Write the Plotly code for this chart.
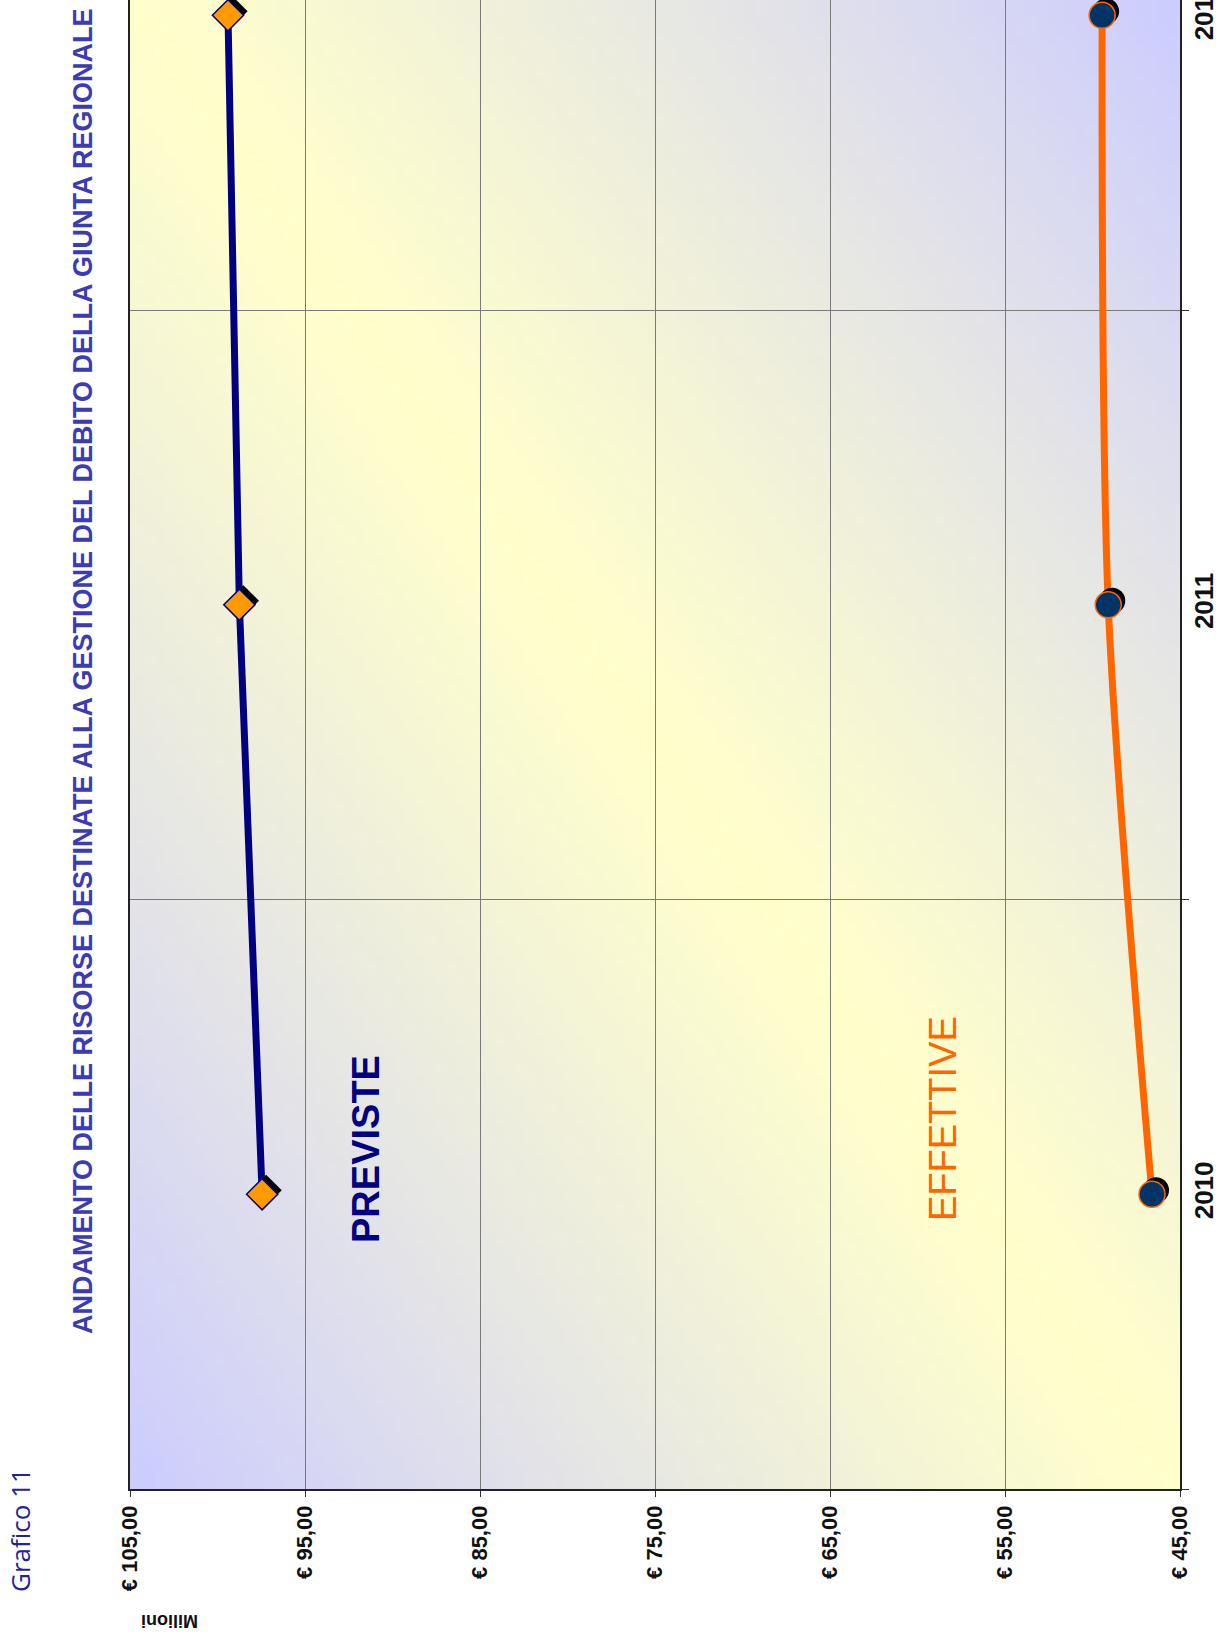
import base64
import struct
import zlib

import plotly.graph_objects as go

# ---------------- data ----------------
years = [2010, 2011, 2012]
year_labels = ["2010", "2011", "2012"]
previste = [97.45, 98.75, 99.4]      # orange diamonds, navy line
effettive = [46.6, 49.1, 49.45]      # navy circles, orange line
value_ticks = [105, 95, 85, 75, 65, 55, 45]
value_labels = ["€ 105,00", "€ 95,00", "€ 85,00", "€ 75,00", "€ 65,00", "€ 55,00", "€ 45,00"]
category_bounds = [2009.5, 2010.5, 2011.5]

title_text = "ANDAMENTO DELLE RISORSE DESTINATE ALLA GESTIONE DEL DEBITO DELLA GIUNTA REGIONALE"

# ---------------- layout geometry ----------------
W, H = 1224, 1638
ML, MR, MT, MB = 130, 44, 0, 149
PW, PH = W - ML - MR, H - MT - MB

SANS = "Liberation Sans, Arial, sans-serif"

NAVY = "#000080"
ORANGE = "#FF6600"
DOT = "#003366"


# ---------------- background gradient (PNG) ----------------
def gradient_png(w, h):
    lav = (204, 204, 255)
    yel = (255, 255, 204)
    L = (PW ** 2 + PH ** 2) ** 0.5
    dmax = PW * PH / L
    raw = bytearray()
    for j in range(h):
        raw.append(0)
        for i in range(w):
            X = (i + 0.5) / w * PW
            Y = (j + 0.5) / h * PH
            d = abs(PW * Y - PH * X) / L
            t = min(1.0, d / dmax) ** 1.15
            for k in range(3):
                raw.append(int(round(yel[k] + (lav[k] - yel[k]) * t)))

    def chunk(tag, data):
        c = struct.pack(">I", len(data)) + tag + data
        return c + struct.pack(">I", zlib.crc32(tag + data) & 0xFFFFFFFF)

    png = b"\x89PNG\r\n\x1a\n"
    png += chunk(b"IHDR", struct.pack(">IIBBBBB", w, h, 8, 2, 0, 0, 0))
    png += chunk(b"IDAT", zlib.compress(bytes(raw), 9))
    png += chunk(b"IEND", b"")
    return "data:image/png;base64," + base64.b64encode(png).decode()


bg = gradient_png(105, 149)

# ---------------- figure ----------------
fig = go.Figure()

# shadow offsets (small, derived from scale: ~4 px)
sx = 4 / (PW / 60.0)
sy = 4 / (PH / 2.526)

# PREVISTE
fig.add_trace(go.Scatter(
    x=previste, y=years, mode="lines",
    line=dict(color=NAVY, width=7, shape="spline", smoothing=0.6),
    hoverinfo="skip", cliponaxis=False))
fig.add_trace(go.Scatter(
    x=[v - sx for v in previste], y=[y + sy for y in years], mode="markers",
    marker=dict(symbol="diamond", size=24, color="black"),
    hoverinfo="skip", cliponaxis=False))
fig.add_trace(go.Scatter(
    x=previste, y=years, mode="markers",
    marker=dict(symbol="diamond", size=24, color="#FF9900",
                line=dict(color=NAVY, width=1.5)),
    hoverinfo="skip", cliponaxis=False))

# EFFETTIVE
fig.add_trace(go.Scatter(
    x=effettive, y=years, mode="lines",
    line=dict(color=ORANGE, width=7, shape="spline", smoothing=0.8),
    hoverinfo="skip", cliponaxis=False))
fig.add_trace(go.Scatter(
    x=[v - sx for v in effettive], y=[y + sy for y in years], mode="markers",
    marker=dict(symbol="circle", size=26, color="black"),
    hoverinfo="skip", cliponaxis=False))
fig.add_trace(go.Scatter(
    x=effettive, y=years, mode="markers",
    marker=dict(symbol="circle", size=26, color=DOT,
                line=dict(color=ORANGE, width=1.5)),
    hoverinfo="skip", cliponaxis=False))

top_val = 2009.5 + 2.526

fig.update_layout(
    width=W, height=H,
    margin=dict(l=ML, r=MR, t=MT, b=MB, pad=0, autoexpand=False),
    paper_bgcolor="white",
    plot_bgcolor="rgba(0,0,0,0)",
    showlegend=False,
    images=[dict(source=bg, xref="paper", yref="paper", x=0, y=1,
                 sizex=1, sizey=1, xanchor="left", yanchor="top",
                 sizing="stretch", layer="below")],
    xaxis=dict(
        range=[105, 45], tickvals=value_ticks, ticktext=value_labels,
        tickangle=-90, ticks="outside", ticklen=6, tickcolor="#333",
        tickfont=dict(family=SANS, size=22, color="#111", weight="bold"),
        showgrid=True, gridcolor="#7a7a7a", gridwidth=1,
        showline=True, linecolor="#222", linewidth=1.5, mirror=True,
        zeroline=False, fixedrange=True, ticklabeloverflow="allow",
        automargin=False,
    ),
    yaxis=dict(
        range=[2009.5, top_val], tickvals=years, ticktext=year_labels,
        side="right", tickangle=-90, ticks="",
        tickfont=dict(family=SANS, size=26, color="#111", weight="bold"),
        showgrid=False, ticklabeloverflow="allow", automargin=False,
        minor=dict(tickvals=category_bounds, ticks="outside", ticklen=7,
                   tickcolor="#333", showgrid=True, gridcolor="#7a7a7a", gridwidth=1),
        showline=True, linecolor="#222", linewidth=1.5, mirror=True,
        zeroline=False, fixedrange=True,
    ),
)

fig.add_annotation(
    text=title_text, xref="paper", yref="paper",
    x=(83 - ML) / PW, y=(PH - 671) / PH, xanchor="center", yanchor="middle",
    textangle=-90, showarrow=False,
    font=dict(family=SANS, size=27, color="#3B3BB5", weight="bold"))

fig.add_annotation(
    text="PREVISTE", xref="paper", yref="paper",
    x=(366 - ML) / PW, y=(PH - 1149) / PH, xanchor="center", yanchor="middle",
    textangle=-90, showarrow=False,
    font=dict(family=SANS, size=38, color=NAVY, weight="bold"))

fig.add_annotation(
    text="EFFETTIVE", xref="paper", yref="paper",
    x=(943 - ML) / PW, y=(PH - 1119) / PH, xanchor="center", yanchor="middle",
    textangle=-90, showarrow=False,
    font=dict(family=SANS, size=38, color=ORANGE))

fig.add_annotation(
    text="Grafico 11", xref="paper", yref="paper",
    x=(20 - ML) / PW, y=(PH - 1530) / PH, xanchor="center", yanchor="middle",
    textangle=-90, showarrow=False,
    font=dict(family="Open Sans, Lato, sans-serif", size=26, color="#22229A"))

fig.add_annotation(
    text="Milioni", xref="paper", yref="paper",
    x=(170 - ML) / PW, y=(PH - 1621) / PH, xanchor="center", yanchor="middle",
    textangle=180, showarrow=False,
    font=dict(family=SANS, size=18, color="#111", weight="bold"))

fig.write_html("out.html")
